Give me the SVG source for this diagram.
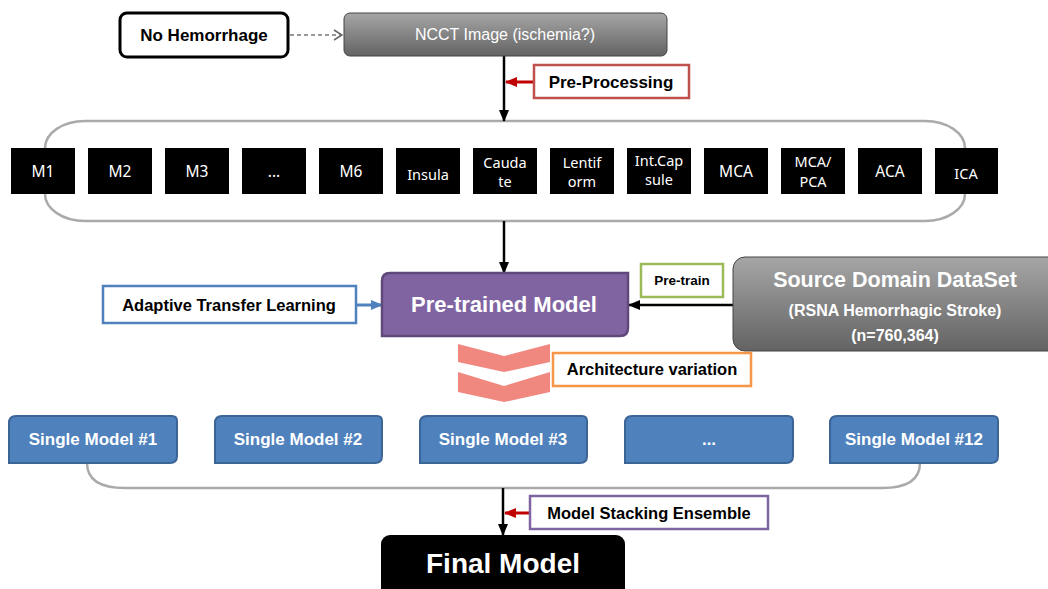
<svg xmlns="http://www.w3.org/2000/svg" width="1048" height="589" viewBox="0 0 1048 589">
<defs>
<linearGradient id="gray" x1="0" y1="0" x2="0" y2="1">
<stop offset="0" stop-color="#a6a6a6"/>
<stop offset="1" stop-color="#636363"/>
</linearGradient>
<marker id="ah" markerUnits="userSpaceOnUse" markerWidth="12" markerHeight="12" viewBox="0 0 12 12" refX="11" refY="6" orient="auto"><path d="M0,1 L12,6 L0,11 z" fill="#000"/></marker>
<marker id="ahr" markerUnits="userSpaceOnUse" markerWidth="12" markerHeight="12" viewBox="0 0 12 12" refX="11" refY="6" orient="auto"><path d="M0,1 L12,6 L0,11 z" fill="#c00000"/></marker>
<marker id="ahb" markerUnits="userSpaceOnUse" markerWidth="12" markerHeight="12" viewBox="0 0 12 12" refX="11" refY="6" orient="auto"><path d="M0,1 L12,6 L0,11 z" fill="#4f81bd"/></marker>
<marker id="aho" markerUnits="userSpaceOnUse" markerWidth="10" markerHeight="12" viewBox="0 0 10 12" refX="9" refY="6" orient="auto"><path d="M1,1 L9,6 L1,11" fill="none" stroke="#666" stroke-width="1.5"/></marker>
</defs>
<style>
.lbl{font-family:"Liberation Sans",Arial,sans-serif;font-weight:bold;fill:#000;text-anchor:middle}
.wt{font-family:"Liberation Sans",Arial,sans-serif;font-weight:bold;fill:#fff;text-anchor:middle}
.blk rect{fill:#000}
.blk text{font-family:"Noto Sans","Open Sans",sans-serif;font-size:14.5px;fill:#fff;text-anchor:middle}
.blk text.one{font-size:15.5px}
.sm path{fill:#4f81bd;stroke:#3b6597;stroke-width:2}
.brace{fill:none;stroke:#aaaaaa;stroke-width:2.5}
.c{fill:none;stroke:#000;stroke-width:2.5}
</style>
<rect width="1048" height="589" fill="#fff"/>

<g id="braces">
<rect class="brace" x="45" y="121" width="920" height="100" rx="40" ry="27"/>
<path class="brace" d="M87 463 C87 480 100 488 125 488 L882 488 C907 488 920 480 920 463"/>
</g>

<g id="connectors">
<line class="c" x1="504" y1="56" x2="504" y2="121" marker-end="url(#ah)"/>
<line class="c" x1="504" y1="221" x2="504" y2="273" marker-end="url(#ah)"/>
<line class="c" x1="733" y1="305" x2="629" y2="305" marker-end="url(#ah)"/>
<line class="c" x1="503" y1="488" x2="503" y2="535" marker-end="url(#ah)"/>
<line x1="534" y1="82" x2="506" y2="82" stroke="#c00000" stroke-width="3" marker-end="url(#ahr)"/>
<line x1="530" y1="513" x2="505" y2="513" stroke="#c00000" stroke-width="3" marker-end="url(#ahr)"/>
<line x1="357" y1="305" x2="382" y2="305" stroke="#4f81bd" stroke-width="3" marker-end="url(#ahb)"/>
<line x1="290" y1="35" x2="342" y2="35" stroke="#777" stroke-width="1.5" stroke-dasharray="4 3" marker-end="url(#aho)"/>
</g>

<g id="no-hemorrhage">
<rect x="120" y="13" width="168" height="44" rx="7" fill="#fff" stroke="#000" stroke-width="3"/>
<text class="lbl" x="204" y="41" font-size="17">No Hemorrhage</text>
</g>

<g id="ncct">
<rect x="344" y="13" width="323" height="43" rx="6" fill="url(#gray)" stroke="#444" stroke-width="1"/>
<text x="505" y="40" font-family="'Liberation Sans',Arial,sans-serif" font-size="16" fill="#fff" text-anchor="middle">NCCT Image (ischemia?)</text>
</g>

<g id="pre-processing">
<rect x="534" y="65" width="155" height="33" fill="#fff" stroke="#c0504d" stroke-width="2.5"/>
<text class="lbl" x="611" y="88" font-size="17">Pre-Processing</text>
</g>

<g id="regions" class="blk">
<g id="r-m1"><rect x="11" y="148" width="64" height="46"/><text class="one" x="43" y="177">M1</text></g>
<g id="r-m2"><rect x="88" y="148" width="64" height="46"/><text class="one" x="120" y="177">M2</text></g>
<g id="r-m3"><rect x="165" y="148" width="64" height="46"/><text class="one" x="197" y="177">M3</text></g>
<g id="r-dots"><rect x="242" y="148" width="64" height="46"/><text class="one" x="274" y="177">...</text></g>
<g id="r-m6"><rect x="319" y="148" width="64" height="46"/><text class="one" x="351" y="177">M6</text></g>
<g id="r-insula"><rect x="396" y="148" width="64" height="46"/><text x="428" y="180">Insula</text></g>
<g id="r-caudate"><rect x="473" y="148" width="64" height="46"/><text x="505" y="168">Cauda</text><text x="505" y="187">te</text></g>
<g id="r-lentiform"><rect x="550" y="148" width="64" height="46"/><text x="582" y="168">Lentif</text><text x="582" y="187">orm</text></g>
<g id="r-intcap"><rect x="627" y="148" width="64" height="46"/><text x="659" y="166" font-size="13">Int.Cap</text><text x="659" y="185" font-size="13">sule</text></g>
<g id="r-mca"><rect x="704" y="148" width="64" height="46"/><text class="one" x="736" y="177">MCA</text></g>
<g id="r-mcapca"><rect x="781" y="148" width="64" height="46"/><text x="813" y="167">MCA/</text><text x="813" y="187">PCA</text></g>
<g id="r-aca"><rect x="858" y="148" width="64" height="46"/><text class="one" x="890" y="177">ACA</text></g>
<g id="r-ica"><rect x="935" y="148" width="63" height="46"/><text x="966" y="179" font-size="16.5">ICA</text></g>
</g>

<g id="adaptive-transfer">
<rect x="103" y="286" width="253" height="37" fill="#fff" stroke="#4f81bd" stroke-width="2.5"/>
<text class="lbl" x="229" y="311" font-size="16.5">Adaptive Transfer Learning</text>
</g>

<g id="pretrained-model">
<path d="M390 273 L628 273 L628 328 Q628 336 620 336 L382 336 L382 281 Q382 273 390 273 Z" fill="#8064a2" stroke="#5f497a" stroke-width="2.5"/>
<text class="wt" x="504" y="312" font-size="22">Pre-trained Model</text>
</g>

<g id="pre-train">
<rect x="641" y="264" width="82" height="33" fill="#fff" stroke="#9bbb59" stroke-width="2.5"/>
<text class="lbl" x="682" y="285" font-size="13.5">Pre-train</text>
</g>

<g id="source-domain">
<rect x="733" y="257" width="330" height="94" rx="12" fill="url(#gray)" stroke="#444" stroke-width="1"/>
<text class="wt" x="895" y="287" font-size="21.5">Source Domain DataSet</text>
<text class="wt" x="895" y="316" font-size="16">(RSNA Hemorrhagic Stroke)</text>
<text class="wt" x="895" y="341" font-size="16">(n=760,364)</text>
</g>

<g id="chevrons" fill="#f08880">
<polygon points="458,344 504,356 550,344 550,362 504,372 458,362"/>
<polygon points="458,372 504,386 550,372 550,392 504,402 458,392"/>
</g>

<g id="architecture-variation">
<rect x="553" y="353" width="198" height="33" fill="#fff" stroke="#f79646" stroke-width="2.5"/>
<text class="lbl" x="652" y="375" font-size="16.5">Architecture variation</text>
</g>

<g id="single-models" class="sm">
<g id="sm1"><path d="M16 416 L172 416 Q177 416 177 421 L177 456 Q177 463 170 463 L9 463 L9 423 Q9 416 16 416 Z"/><text class="wt" x="93" y="445" font-size="17">Single Model #1</text></g>
<g id="sm2"><path d="M222 416 L377 416 Q382 416 382 421 L382 456 Q382 463 375 463 L215 463 L215 423 Q215 416 222 416 Z"/><text class="wt" x="298" y="445" font-size="17">Single Model #2</text></g>
<g id="sm3"><path d="M427 416 L582 416 Q587 416 587 421 L587 456 Q587 463 580 463 L420 463 L420 423 Q420 416 427 416 Z"/><text class="wt" x="503" y="445" font-size="17">Single Model #3</text></g>
<g id="sm-dots"><path d="M632 416 L788 416 Q793 416 793 421 L793 456 Q793 463 786 463 L625 463 L625 423 Q625 416 632 416 Z"/><text class="wt" x="709" y="445" font-size="17">...</text></g>
<g id="sm12"><path d="M837 416 L993 416 Q998 416 998 421 L998 456 Q998 463 991 463 L830 463 L830 423 Q830 416 837 416 Z"/><text class="wt" x="914" y="445" font-size="17">Single Model #12</text></g>
</g>

<g id="model-stacking">
<rect x="530" y="496" width="238" height="33" fill="#fff" stroke="#8064a2" stroke-width="2.5"/>
<text class="lbl" x="649" y="519" font-size="16.5">Model Stacking Ensemble</text>
</g>

<g id="final-model">
<rect x="381" y="535" width="244" height="70" rx="9" fill="#000"/>
<text class="wt" x="503" y="573" font-size="28">Final Model</text>
</g>
</svg>
